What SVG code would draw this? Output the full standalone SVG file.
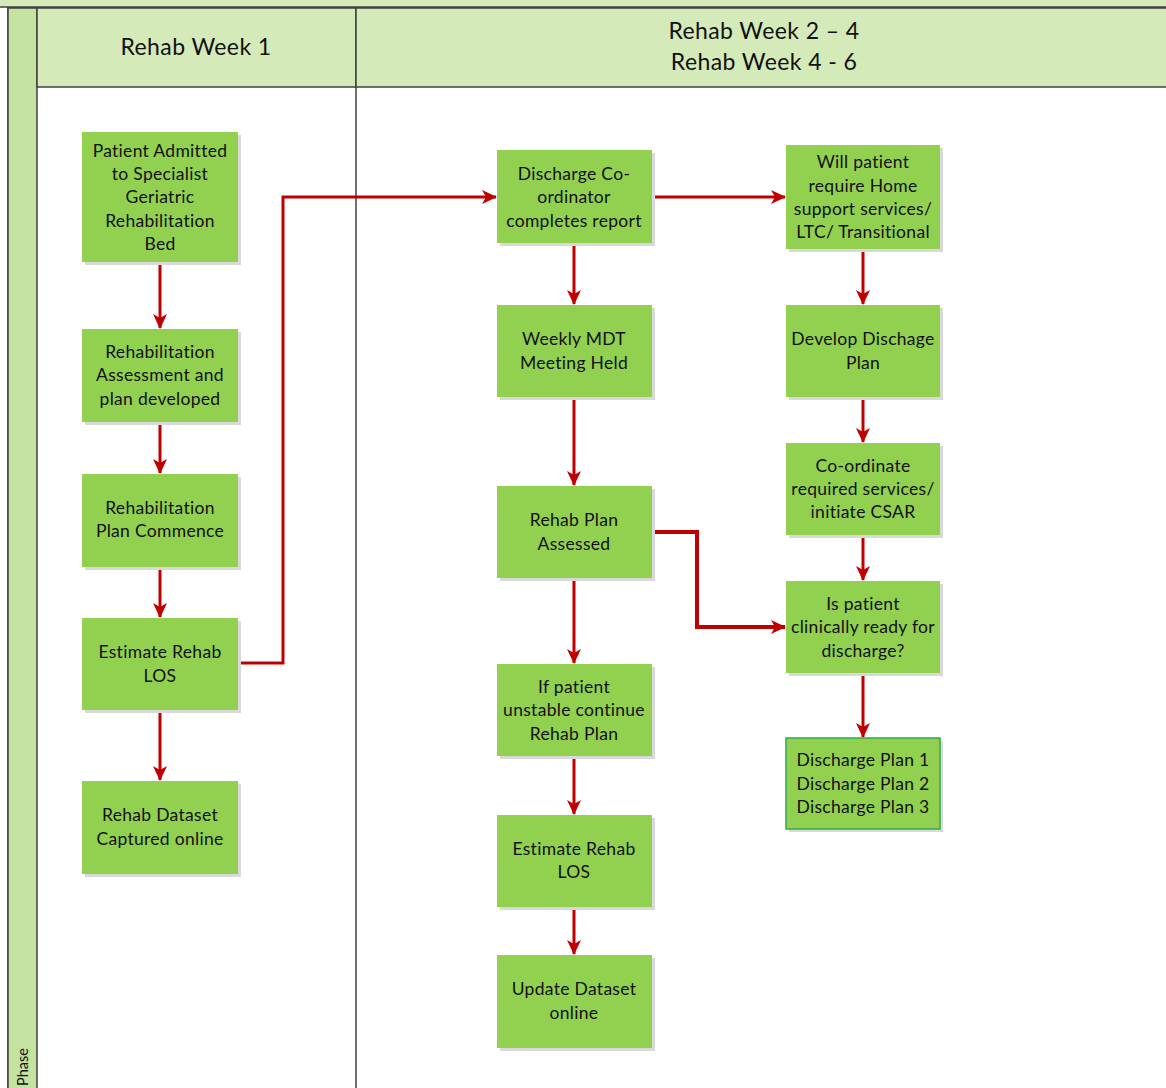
<svg xmlns="http://www.w3.org/2000/svg" width="1166" height="1088" viewBox="0 0 1166 1088">
<defs>
<style>
.hdr{fill:#d4ebb9;stroke:#404040;stroke-width:1.5}
.ph{fill:#c5e3a0;stroke:#404040;stroke-width:1.5}
.sh{fill:#d9d9d9}
.nd{fill:#92d050}
.t{font-family:Lato,"Open Sans",sans-serif;font-size:17.5px;letter-spacing:0.3px;fill:#111;text-anchor:middle}
.h{font-family:Lato,"Open Sans",sans-serif;font-size:23px;letter-spacing:0.4px;fill:#111;text-anchor:middle}
.c{fill:none;stroke:#c00000;stroke-width:3}
</style>
<marker id="ah" markerWidth="16" markerHeight="14" refX="14" refY="7" orient="auto" markerUnits="userSpaceOnUse">
<path d="M0,0 L15,7 L0,14 L4,7 Z" fill="#c00000"/>
</marker>
</defs>
<rect x="0" y="0" width="1166" height="1088" fill="#fff"/>
<g id="lanes">
<rect class="hdr" x="-2" y="-2" width="1170" height="9"/>
<rect x="8" y="8" width="1160" height="1082" fill="#fff" stroke="#404040" stroke-width="1.5"/>
<rect class="ph" x="8" y="8" width="29" height="1082"/>
<rect class="hdr" x="37" y="8" width="319" height="79"/>
<rect class="hdr" x="356" y="8" width="812" height="79"/>
<line x1="356" y1="87" x2="356" y2="1088" stroke="#404040" stroke-width="1.5"/>
<text class="h" x="196" y="55">Rehab Week 1</text>
<text class="h" x="764" y="39">Rehab Week 2 – 4</text>
<text class="h" x="764" y="70">Rehab Week 4 - 6</text>
<text font-family="Lato,'Open Sans',sans-serif" font-size="14.5" fill="#111" transform="translate(28,1086) rotate(-90)">Phase</text>
</g>
<g id="connectors">
<line class="c" x1="160" y1="262" x2="160" y2="328" marker-end="url(#ah)"/>
<line class="c" x1="160" y1="422" x2="160" y2="473" marker-end="url(#ah)"/>
<line class="c" x1="160" y1="567" x2="160" y2="617" marker-end="url(#ah)"/>
<line class="c" x1="160" y1="710" x2="160" y2="780" marker-end="url(#ah)"/>
<polyline class="c" points="238,663 283,663 283,197 496,197" marker-end="url(#ah)"/>
<line class="c" x1="652" y1="197" x2="785" y2="197" marker-end="url(#ah)"/>
<line class="c" x1="574" y1="243" x2="574" y2="304" marker-end="url(#ah)"/>
<line class="c" x1="574" y1="397" x2="574" y2="485" marker-end="url(#ah)"/>
<line class="c" x1="574" y1="578" x2="574" y2="663" marker-end="url(#ah)"/>
<line class="c" x1="574" y1="756" x2="574" y2="814" marker-end="url(#ah)"/>
<line class="c" x1="574" y1="907" x2="574" y2="954" marker-end="url(#ah)"/>
<polyline class="c" style="stroke-width:4" points="652,532 697,532 697,627 785,627" marker-end="url(#ah)"/>
<line class="c" x1="863" y1="249" x2="863" y2="304" marker-end="url(#ah)"/>
<line class="c" x1="863" y1="397" x2="863" y2="442" marker-end="url(#ah)"/>
<line class="c" x1="863" y1="535" x2="863" y2="580" marker-end="url(#ah)"/>
<line class="c" x1="863" y1="673" x2="863" y2="737" marker-end="url(#ah)"/>
</g>
<g id="n1"><rect class="sh" x="85" y="135" width="156" height="130"/><rect class="nd" x="82" y="132" width="156" height="130"/>
<text class="t" x="160" y="157">Patient Admitted</text><text class="t" x="160" y="180">to Specialist</text><text class="t" x="160" y="203">Geriatric</text><text class="t" x="160" y="227">Rehabilitation</text><text class="t" x="160" y="250">Bed</text></g>
<g id="n2"><rect class="sh" x="85" y="332" width="156" height="93"/><rect class="nd" x="82" y="329" width="156" height="93"/>
<text class="t" x="160" y="358">Rehabilitation</text><text class="t" x="160" y="381">Assessment and</text><text class="t" x="160" y="405">plan developed</text></g>
<g id="n3"><rect class="sh" x="85" y="477" width="156" height="93"/><rect class="nd" x="82" y="474" width="156" height="93"/>
<text class="t" x="160" y="514">Rehabilitation</text><text class="t" x="160" y="537">Plan Commence</text></g>
<g id="n4"><rect class="sh" x="85" y="621" width="156" height="92"/><rect class="nd" x="82" y="618" width="156" height="92"/>
<text class="t" x="160" y="658">Estimate Rehab</text><text class="t" x="160" y="682">LOS</text></g>
<g id="n5"><rect class="sh" x="85" y="784" width="156" height="93"/><rect class="nd" x="82" y="781" width="156" height="93"/>
<text class="t" x="160" y="821">Rehab Dataset</text><text class="t" x="160" y="845">Captured online</text></g>
<g id="n6"><rect class="sh" x="500" y="153" width="155" height="93"/><rect class="nd" x="497" y="150" width="155" height="93"/>
<text class="t" x="574" y="180">Discharge Co-</text><text class="t" x="574" y="203">ordinator</text><text class="t" x="574" y="227">completes report</text></g>
<g id="n7"><rect class="sh" x="500" y="308" width="155" height="92"/><rect class="nd" x="497" y="305" width="155" height="92"/>
<text class="t" x="574" y="345">Weekly MDT</text><text class="t" x="574" y="369">Meeting Held</text></g>
<g id="n8"><rect class="sh" x="500" y="489" width="155" height="92"/><rect class="nd" x="497" y="486" width="155" height="92"/>
<text class="t" x="574" y="526">Rehab Plan</text><text class="t" x="574" y="550">Assessed</text></g>
<g id="n9"><rect class="sh" x="500" y="667" width="155" height="92"/><rect class="nd" x="497" y="664" width="155" height="92"/>
<text class="t" x="574" y="693">If patient</text><text class="t" x="574" y="716">unstable continue</text><text class="t" x="574" y="740">Rehab Plan</text></g>
<g id="n10"><rect class="sh" x="500" y="818" width="155" height="92"/><rect class="nd" x="497" y="815" width="155" height="92"/>
<text class="t" x="574" y="855">Estimate Rehab</text><text class="t" x="574" y="878">LOS</text></g>
<g id="n11"><rect class="sh" x="500" y="958" width="155" height="93"/><rect class="nd" x="497" y="955" width="155" height="93"/>
<text class="t" x="574" y="995">Update Dataset</text><text class="t" x="574" y="1019">online</text></g>
<g id="n12"><rect class="sh" x="789" y="148" width="154" height="104"/><rect class="nd" x="786" y="145" width="154" height="104"/>
<text class="t" x="863" y="168">Will patient</text><text class="t" x="863" y="192">require Home</text><text class="t" x="863" y="215">support services/</text><text class="t" x="863" y="238">LTC/ Transitional</text></g>
<g id="n13"><rect class="sh" x="789" y="308" width="154" height="92"/><rect class="nd" x="786" y="305" width="154" height="92"/>
<text class="t" x="863" y="345">Develop Dischage</text><text class="t" x="863" y="369">Plan</text></g>
<g id="n14"><rect class="sh" x="789" y="446" width="154" height="92"/><rect class="nd" x="786" y="443" width="154" height="92"/>
<text class="t" x="863" y="472">Co-ordinate</text><text class="t" x="863" y="495">required services/</text><text class="t" x="863" y="518">initiate CSAR</text></g>
<g id="n15"><rect class="sh" x="789" y="584" width="154" height="92"/><rect class="nd" x="786" y="581" width="154" height="92"/>
<text class="t" x="863" y="610">Is patient</text><text class="t" x="863" y="633">clinically ready for</text><text class="t" x="863" y="657">discharge?</text></g>
<g id="n16"><rect class="sh" x="789" y="741" width="154" height="91"/><rect class="nd" x="786" y="738" width="154" height="91" stroke="#2eaa4a" stroke-width="1.5"/>
<text class="t" x="863" y="766">Discharge Plan 1</text><text class="t" x="863" y="790">Discharge Plan 2</text><text class="t" x="863" y="813">Discharge Plan 3</text></g>
</svg>
